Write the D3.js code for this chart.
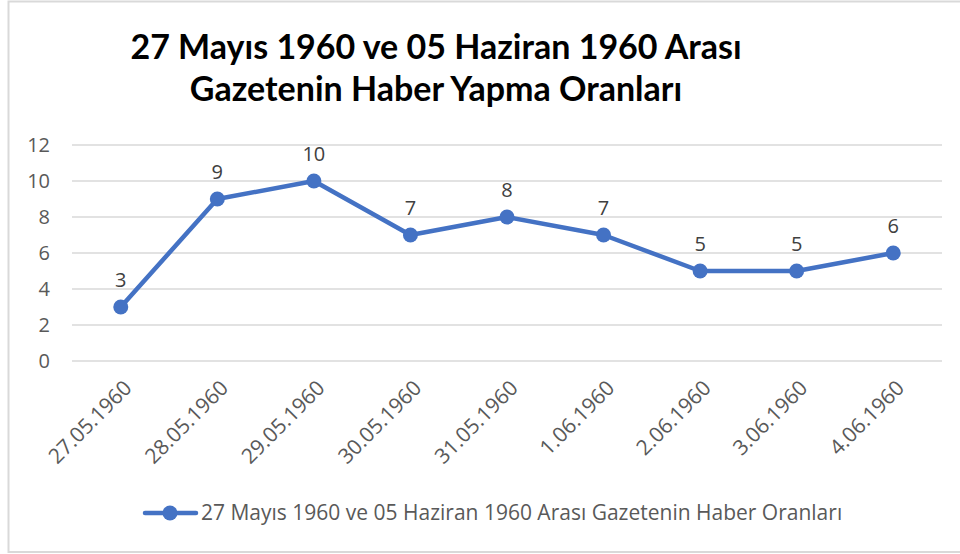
<!DOCTYPE html>
<html>
<head>
<meta charset="utf-8">
<script src="https://cdn.jsdelivr.net/npm/d3@7"></script>
<style>
body{margin:0;background:#fff;}
svg{display:block;font-family:"Open Sans",sans-serif;}
</style>
</head>
<body>
<svg id="chart" width="960" height="554"></svg>
<script>
var categories = ["27.05.1960","28.05.1960","29.05.1960","30.05.1960","31.05.1960","1.06.1960","2.06.1960","3.06.1960","4.06.1960"];
var values = [3,9,10,7,8,7,5,5,6];
var yTicks = [0,2,4,6,8,10,12];
var titleLines = ["27 Mayıs 1960 ve 05 Haziran 1960 Arası","Gazetenin Haber Yapma Oranları"];
var seriesName = "27 Mayıs 1960 ve 05 Haziran 1960 Arası Gazetenin Haber Oranları";

var svg = d3.select("#chart");
var blue = "#4472C4", gray = "#595959";
var font = "'Open Sans',sans-serif";

// outer border
svg.append("rect")
    .attr("x",8.5).attr("y",1.5)
    .attr("width",970).attr("height",550.5)
    .attr("fill","none").attr("stroke","#d9d9d9").attr("stroke-width",2);

// title
svg.append("g").selectAll("text")
    .data(titleLines)
    .enter().append("text")
    .attr("x",436)
    .attr("y",function(d,i){return 59+i*42;})
    .attr("text-anchor","middle")
    .attr("font-size",34)
    .attr("font-weight","bold")
    .attr("font-family","Lato,sans-serif")
    .attr("fill","#000")
    .text(function(d){return d;});

var x = d3.scaleBand().domain(categories).range([72.5,941.5]);
var y = d3.scaleLinear().domain([0,12]).range([361,145]);

// gridlines
svg.append("g").selectAll("line")
    .data(yTicks)
    .enter().append("line")
    .attr("x1",72).attr("x2",942)
    .attr("y1",function(d){return y(d);})
    .attr("y2",function(d){return y(d);})
    .attr("stroke","#d9d9d9").attr("stroke-width",1.3);

// y axis labels
var yAxis = svg.append("g")
    .attr("transform","translate(50,0)")
    .call(d3.axisLeft(y).tickValues(yTicks).tickSize(0).tickPadding(0));
yAxis.select(".domain").remove();
yAxis.selectAll("text")
    .attr("font-size",20).attr("fill",gray)
    .attr("font-family",font);

// x axis labels
var xAxis = svg.append("g")
    .attr("transform","translate(0,370)")
    .call(d3.axisBottom(x).tickSize(0).tickPadding(0));
xAxis.select(".domain").remove();
xAxis.selectAll("text")
    .attr("font-size",21).attr("fill",gray)
    .attr("font-family",font)
    .attr("text-anchor","end")
    .attr("dy","0.35em")
    .attr("transform","translate(7,14) rotate(-45)");

// line
var cx = function(d,i){return x(categories[i])+x.bandwidth()/2;};
var line = d3.line()
    .x(cx)
    .y(function(d){return y(d);});
svg.append("path")
    .datum(values)
    .attr("d",line)
    .attr("fill","none")
    .attr("stroke",blue)
    .attr("stroke-width",4.5)
    .attr("stroke-linejoin","round")
    .attr("stroke-linecap","round");

svg.append("g").selectAll("circle")
    .data(values)
    .enter().append("circle")
    .attr("cx",cx)
    .attr("cy",function(d){return y(d);})
    .attr("r",7.5)
    .attr("fill",blue);

// data labels
svg.append("g").selectAll("text")
    .data(values)
    .enter().append("text")
    .attr("x",cx)
    .attr("y",function(d){return y(d)-20;})
    .attr("text-anchor","middle")
    .attr("font-size",20)
    .attr("fill","#404040")
    .text(function(d){return d;});

// legend
var lg = svg.append("g");
lg.append("line")
    .attr("x1",145).attr("x2",196)
    .attr("y1",513).attr("y2",513)
    .attr("stroke",blue).attr("stroke-width",4.5)
    .attr("stroke-linecap","round");
lg.append("circle")
    .attr("cx",170).attr("cy",513).attr("r",7.5).attr("fill",blue);
lg.append("text")
    .attr("x",201).attr("y",520)
    .attr("font-size",21).attr("fill",gray)
    .text(seriesName);
</script>
</body>
</html>
